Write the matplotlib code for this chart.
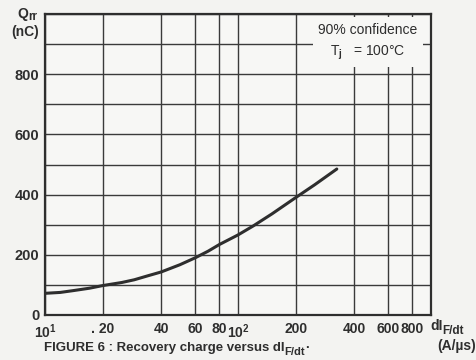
import matplotlib.pyplot as plt
from matplotlib.patches import Rectangle
from matplotlib.ticker import NullLocator

plt.rcParams['font.family'] = ['Liberation Sans', 'DejaVu Sans']
plt.rcParams['font.weight'] = 'bold'
plt.rcParams['mathtext.fontset'] = 'custom'
plt.rcParams['mathtext.rm'] = 'Liberation Sans:bold'
plt.rcParams['mathtext.it'] = 'Liberation Sans:bold'

# Datos (dIF/dt en A/us, Qrr en nC)
didt = [10, 12, 14, 17, 20, 25, 29, 34, 40, 50, 60, 70, 80, 100, 120, 150, 200, 250, 325]
qrr = [72, 75, 81, 89, 98, 108, 117, 130, 143, 167, 190, 212, 234, 266, 296, 336, 391, 433, 485]

x_ticks = [10, 20, 40, 60, 80, 100, 200, 400, 600, 800]
x_labels = ['10$^{1}$', '. 20', '40', '60', '80', '10$^{2}$', '200', '400', '600', '800']
y_ticks = [0, 100, 200, 300, 400, 500, 600, 700, 800, 900, 1000]
y_labels = ['0', '', '200', '', '400', '', '600', '', '800', '', '']

ink = '#2e2e2e'
fig = plt.figure(figsize=(4.77, 3.6), dpi=100, facecolor='#f3f3f1')
ax = fig.add_axes([0.0943, 0.125, 0.8093, 0.8361])
ax.set_facecolor('#f7f7f5')

ax.plot(didt, qrr, color=ink, linewidth=2.2, solid_capstyle='round',
        solid_joinstyle='round', zorder=3)

ax.set_xscale('log')
ax.set_xlim(10, 1000)
ax.set_ylim(0, 1000)
ax.set_xticks(x_ticks)
ax.set_xticklabels(x_labels)
ax.xaxis.set_minor_locator(NullLocator())
ax.set_yticks(y_ticks)
ax.set_yticklabels(y_labels)
ax.tick_params(length=0, colors=ink)
ax.tick_params(axis='x', pad=5, labelsize=10)
ax.tick_params(axis='y', pad=4, labelsize=10.5)
ax.grid(True, color='#3a3a3a', linewidth=1.0)
for s in ax.spines.values():
    s.set_color(ink)
    s.set_linewidth(1.6)

# Cuadro de texto
ax.add_patch(Rectangle((0.694, 0.824), 0.285, 0.166, transform=ax.transAxes,
                       facecolor='#f7f7f5', edgecolor='none', zorder=2.5))
ax.text(0.837, 0.947, '90% confidence', transform=ax.transAxes, ha='center',
        va='center', fontsize=10, color=ink, fontweight='normal', zorder=4)
ax.text(0.837, 0.872, r'T$_\mathrm{j}$   = 100°C', transform=ax.transAxes,
        ha='center', va='center', fontsize=10, color=ink, fontweight='normal', zorder=4)

fig.canvas.draw()
rend = fig.canvas.get_renderer()


def sub_text(x, y, base, sub, tail='', size=10, drop=0.009):
    # texto con subindice grande, colocado a mano
    t = fig.text(x, y, base, ha='left', va='baseline', fontsize=size, color=ink)
    bb = t.get_window_extent(rend)
    s = fig.text(bb.x1 / fig.bbox.width, y - drop, sub, ha='left', va='baseline',
                 fontsize=size * 0.85, color=ink)
    if tail:
        bb2 = s.get_window_extent(rend)
        fig.text(bb2.x1 / fig.bbox.width, y, tail, ha='left', va='baseline',
                 fontsize=size, color=ink)


# Etiquetas de ejes
sub_text(0.036, 0.950, 'Q', 'rr', size=10, drop=0.006)
fig.text(0.053, 0.910, '(nC)', ha='center', va='center', fontsize=10, color=ink)
sub_text(0.902, 0.084, 'dI', 'F/dt', size=10, drop=0.011)
fig.text(0.958, 0.040, '(A/µs)', ha='center', va='center', fontsize=10, color=ink)

sub_text(0.092, 0.024, 'FIGURE 6 : Recovery charge versus dI', 'F/dt', '·', size=9.5,
         drop=0.010)

plt.savefig('out.png', dpi=100, facecolor=fig.get_facecolor())
plt.close()
